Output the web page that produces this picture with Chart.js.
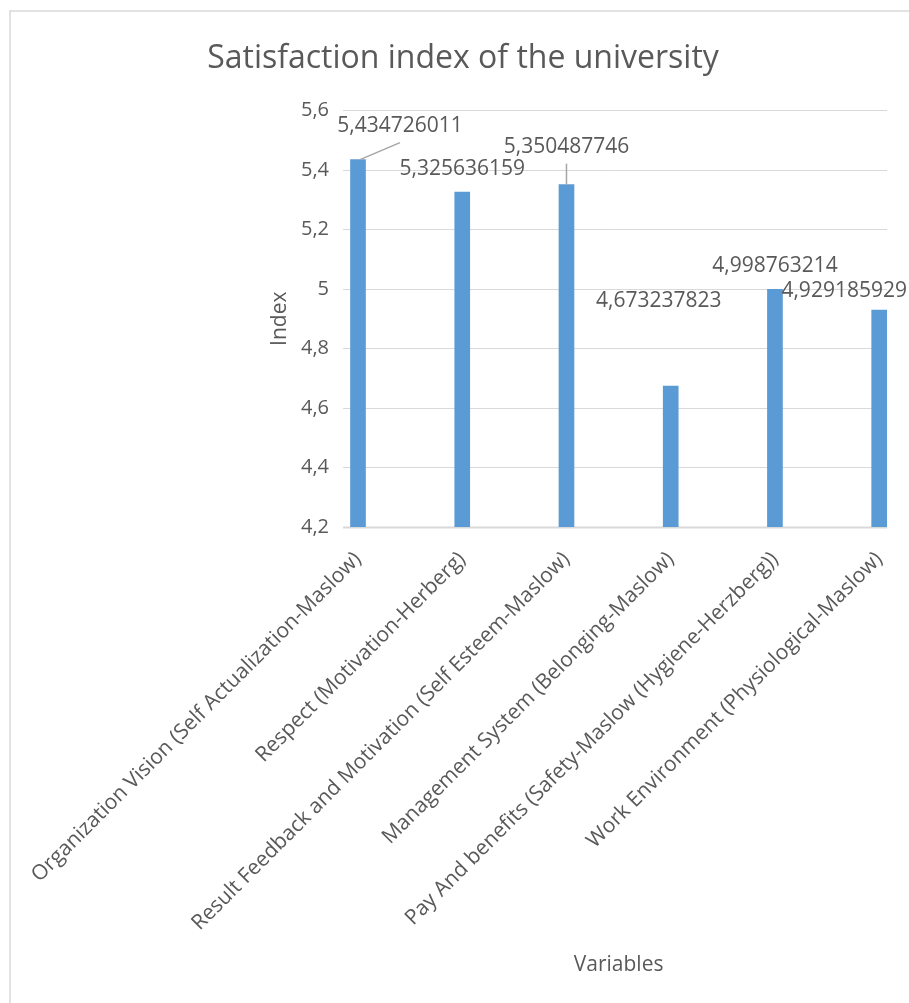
<!DOCTYPE html>
<html>
<head>
<meta charset="utf-8">
<title>Satisfaction index of the university</title>
<script src="https://cdn.jsdelivr.net/npm/chart.js@4.4.1/dist/chart.umd.min.js"></script>
<style>
  html, body { margin: 0; padding: 0; background: #fff; }
  #wrap { width: 909px; height: 1003px; position: relative; }
</style>
</head>
<body>
<div id="wrap"><canvas id="chart"></canvas></div>
<script>
// data
const categories = [
    'Organization Vision (Self Actualization-Maslow)',
    'Respect (Motivation-Herberg)',
    'Result Feedback and Motivation (Self Esteem-Maslow)',
    'Management System (Belonging-Maslow)',
    'Pay And benefits (Safety-Maslow (Hygiene-Herzberg))',
    'Work Environment (Physiological-Maslow)'
];
const indexValues = [5.434726011, 5.325636159, 5.350487746, 4.673237823, 4.998763214, 4.929185929];
const yTicks = [4.2, 4.4, 4.6, 4.8, 5, 5.2, 5.4, 5.6];

// where each value label sits relative to its bar top (Excel moved some by hand)
const labelOffsets = [[42, -34], [0, -23], [0, -38], [-12, -85], [0, -23], [-35, -19]];
const labelLeaders = [true, false, true, false, false, false];

const FONT = '"Open Sans", "DejaVu Sans", sans-serif';
const GREY_TEXT = '#595959';
const GRID = '#D9D9D9';

const commaNum = v => String(v).replace('.', ',');

// outer frame of the chart object
const framePlugin = {
    id: 'frame',
    beforeDraw(chart) {
        const ctx = chart.ctx;
        ctx.save();
        ctx.fillStyle = '#fff';
        ctx.fillRect(0, 0, chart.width, chart.height);
        ctx.strokeStyle = GRID;
        ctx.lineWidth = 1.5;
        ctx.beginPath();
        ctx.moveTo(chart.width, 11);
        ctx.lineTo(10, 11);
        ctx.lineTo(10, chart.height);
        ctx.stroke();
        ctx.restore();
    }
};

// horizontal gridlines run a little past the first and last bar
const gridPlugin = {
    id: 'wideGrid',
    beforeDatasetsDraw(chart) {
        const {ctx, chartArea, scales} = chart;
        const left = chartArea.left - 15, right = chartArea.right + 8;
        ctx.save();
        ctx.strokeStyle = GRID;
        scales.y.ticks.forEach((t, i) => {
            const y = Math.round(scales.y.getPixelForValue(t.value)) + 0.5;
            ctx.lineWidth = i === 0 ? 2 : 1;
            ctx.beginPath();
            ctx.moveTo(left, y);
            ctx.lineTo(right, y);
            ctx.stroke();
        });
        ctx.restore();
    }
};

// value labels with leader lines
const valueLabelPlugin = {
    id: 'valueLabels',
    afterDatasetsDraw(chart) {
        const ctx = chart.ctx;
        const meta = chart.getDatasetMeta(0);
        ctx.save();
        ctx.font = '21px ' + FONT;
        ctx.textAlign = 'center';
        ctx.textBaseline = 'middle';
        meta.data.forEach((bar, i) => {
            const [dx, dy] = labelOffsets[i];
            const x = bar.x + dx, y = bar.y + dy;
            if (labelLeaders[i]) {
                ctx.strokeStyle = '#A6A6A6';
                ctx.lineWidth = 1.5;
                ctx.beginPath();
                ctx.moveTo(bar.x + (dx ? 2 : 0), bar.y);
                ctx.lineTo(x, y + 17);
                ctx.stroke();
            }
            ctx.fillStyle = GREY_TEXT;
            ctx.fillText(commaNum(indexValues[i]), x, y);
        });
        ctx.restore();
    }
};

new Chart(document.getElementById('chart'), {
    type: 'bar',
    data: {
        labels: categories,
        datasets: [{
            label: 'Index',
            data: indexValues,
            backgroundColor: '#5B9BD5',
            barThickness: 15,
            clip: { left: 20, right: 20, top: 0, bottom: 0 }
        }]
    },
    options: {
        responsive: true,
        maintainAspectRatio: false,
        animation: false,
        layout: { padding: { left: 46, right: 29, top: 0, bottom: 10 } },
        plugins: {
            legend: { display: false },
            tooltip: { enabled: false },
            title: {
                display: true,
                text: 'Satisfaction index of the university',
                color: GREY_TEXT,
                font: { family: FONT, size: 32, weight: 'normal' },
                padding: { top: 40, bottom: 32 }
            }
        },
        scales: {
            x: {
                offset: false,
                grid: { display: false },
                border: { display: false },
                ticks: {
                    autoSkip: false,
                    minRotation: 45,
                    maxRotation: 45,
                    padding: 12,
                    color: GREY_TEXT,
                    font: { family: FONT, size: 21 }
                },
                title: {
                    display: true,
                    text: 'Variables',
                    color: GREY_TEXT,
                    font: { family: FONT, size: 21 },
                    padding: { top: 0, bottom: 15 }
                },
                afterFit(scale) { scale.height = 466; }
            },
            y: {
                min: yTicks[0],
                max: yTicks[yTicks.length - 1],
                grid: { display: false, drawTicks: false },
                border: { display: false },
                ticks: {
                    stepSize: yTicks[1] - yTicks[0],
                    padding: 29,
                    color: GREY_TEXT,
                    font: { family: FONT, size: 20 },
                    callback: v => commaNum(Math.round(v * 10) / 10)
                },
                title: {
                    display: true,
                    text: 'Index',
                    color: GREY_TEXT,
                    font: { family: FONT, size: 21 },
                    padding: { top: 221, bottom: 0 }
                },
                afterFit(scale) { scale.width = 312; }
            }
        }
    },
    plugins: [framePlugin, gridPlugin, valueLabelPlugin]
});
</script>
</body>
</html>
